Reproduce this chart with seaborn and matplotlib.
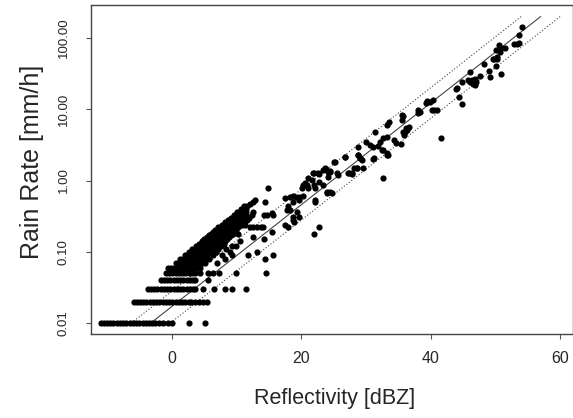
import numpy as np
import matplotlib
matplotlib.use("Agg")
import matplotlib.pyplot as plt
import seaborn as sns
import pandas as pd

# quantised gauge levels (mm/h) and the reflectivities observed at each level
band_rain = [0.01, 0.02, 0.03, 0.04, 0.05, 0.06, 0.07, 0.08, 0.09, 0.10,
             0.11, 0.12, 0.13, 0.14, 0.15, 0.16, 0.17, 0.18, 0.19, 0.20,
             0.22, 0.24, 0.26, 0.28, 0.30, 0.33, 0.36, 0.40, 0.44, 0.47,
             0.50, 0.54]
band_dbz = [
    [-11.0, -10.5, -10.0, -9.5, -9.0, -8.5, -8.0, -7.5, -7.0, -6.5, -6.0, -5.5,
     -5.0, -4.5, -4.0, -3.5, -3.0, -2.6, -2.0, -1.3, -0.6, 0.0, 2.6, 5.2],
    [-5.9, -5.4, -4.9, -4.4, -3.9, -3.4, -2.9, -2.4, -1.9, -1.4, -0.9, -0.4,
     0.1, 0.6, 1.1, 1.6, 2.1, 2.6, 3.0, 3.6, 4.2, 4.9, 5.4],
    [-3.7, -3.2, -2.7, -2.2, -1.7, -1.2, -0.7, -0.2, 0.3, 0.8, 1.3, 1.8, 2.3,
     2.8, 3.3, 3.6, 4.8, 6.6, 8.2, 9.3, 11.4],
    [-1.7, -1.2, -0.7, -0.2, 0.3, 0.8, 1.3, 1.8, 2.3, 2.8, 3.3, 3.6, 5.6],
    [-0.9, -0.4, 0.1, 0.6, 1.1, 1.6, 2.1, 2.6, 3.1, 3.6, 4.3, 5.6, 6.3, 7.3,
     9.9, 14.5],
    [-0.6, -0.1, 0.4, 0.9, 1.4, 1.9, 2.4, 2.9, 3.4, 3.9, 4.4],
    [0.6, 1.1, 1.6, 2.1, 2.6, 3.1, 3.6, 4.1, 4.6, 5.2, 7.0],
    [1.3, 1.8, 2.3, 2.8, 3.3, 3.8, 4.3, 4.8, 5.3, 5.8, 8.2, 14.4],
    [2.0, 2.5, 3.0, 3.5, 4.0, 4.5, 5.0, 5.5, 6.3, 7.8, 9.3, 11.8, 15.6],
    [2.6, 3.1, 3.6, 4.1, 4.6, 5.1, 5.6, 6.1, 6.8, 9.0, 13.1],
    [3.2, 3.7, 4.2, 4.7, 5.2, 5.7, 6.2, 7.2, 8.4],
    [3.7, 4.2, 4.7, 5.2, 5.7, 6.2, 6.7, 7.6, 9.3, 10.0],
    [4.2, 4.7, 5.2, 5.7, 6.2, 6.7, 7.2, 8.0],
    [4.6, 5.1, 5.6, 6.1, 6.6, 7.1, 7.6, 8.3, 10.6],
    [5.0, 5.5, 6.0, 6.5, 7.0, 7.5, 8.0, 8.6, 14.2],
    [5.4, 5.9, 6.4, 6.9, 7.4, 7.9, 8.9, 12.6],
    [5.8, 6.3, 6.8, 7.3, 7.8, 8.3, 9.2],
    [6.1, 6.6, 7.1, 7.6, 8.1, 8.6, 9.5, 10.3],
    [6.4, 6.9, 7.4, 7.9, 8.4, 9.8],
    [6.7, 7.2, 7.7, 8.2, 8.7, 9.2, 10.0],
    [7.2, 7.7, 8.2, 8.7, 9.2, 9.7, 10.3, 12.1, 12.6, 13.1, 13.8, 14.1],
    [7.8, 8.3, 8.8, 9.3, 10.0, 10.6, 10.8, 11.3],
    [8.2, 8.7, 9.2, 9.7, 10.2, 10.8, 11.2],
    [8.7, 9.2, 9.7, 10.2, 11.0, 11.6],
    [9.1, 9.6, 10.1, 10.6, 11.2, 11.9],
    [9.6, 10.2, 10.8, 11.4, 12.4],
    [10.1, 10.8, 11.5, 12.6],
    [10.7, 11.4],
    [11.1, 11.6],
    [12.1],
    [12.6, 14.4],
    [12.8],
]

# individual points in the upper part of the scatter
point_dbz = [14.8, 14.2, 14.7, 15.6, 15.5, 17.5, 18.3, 19.2, 19.6, 18.8, 18.0,
             17.8, 18.3, 19.3, 19.6, 18.8, 17.5, 17.9, 15.5, 21.9, 22.8, 18.8,
             18.9, 20.2, 18.7, 22.1, 22.1, 24.0, 24.7, 20.9, 21.1, 20.6, 22.7,
             23.4, 21.8, 22.7, 23.7, 24.5, 25.2, 25.7, 25.5, 27.3, 27.9, 26.8,
             28.6, 29.5, 28.8, 29.1, 31.1, 32.6, 33.2, 32.7, 20.3, 20.1, 22.1,
             21.9, 19.6, 21.6, 24.0, 24.5,
             54.1, 53.6, 52.9, 53.3, 53.6, 50.5, 50.1, 50.7, 50.8, 51.5, 49.6,
             50.3, 48.3, 50.1, 49.0, 49.2, 50.9, 46.0, 47.6, 45.7, 46.4, 46.8,
             46.1, 46.5, 46.9, 47.0, 44.8, 43.9, 44.0, 44.3, 44.9, 41.6, 40.4,
             39.9, 39.3, 39.5, 40.2, 40.5, 38.1, 38.3, 38.0, 35.7, 35.5, 36.6,
             36.2, 36.0, 35.7, 36.4, 35.8, 35.4, 33.5, 33.2, 34.4, 34.7, 33.2,
             33.2, 33.4, 32.5, 32.6, 31.4, 30.0, 30.6, 31.1, 31.8, 32.2, 31.2,
             28.8, 28.8, 29.1, 29.4, 26.7, 25.1, 28.1, 28.6, 27.4, 27.8, 23.4,
             23.8, 24.2, 24.5, 21.9, 22.6, 21.1, 24.2, 40.9, 50.2, 49.7, 35.5]
point_rain = [0.79, 0.33, 0.33, 0.33, 0.35, 0.56, 0.59, 0.59, 0.53, 0.50, 0.44,
              0.38, 0.38, 0.36, 0.31, 0.31, 0.24, 0.22, 0.19, 0.18, 0.22, 0.28,
              0.26, 0.60, 0.60, 0.53, 0.50, 0.66, 0.66, 0.86, 0.78, 0.91, 0.96,
              0.86, 1.26, 1.23, 1.48, 1.33, 1.84, 1.19, 1.26, 1.28, 1.24, 2.16,
              1.48, 1.48, 2.28, 2.05, 1.98, 2.7, 2.3, 1.07, 0.86, 0.78, 0.78,
              0.86, 0.59, 1.02, 0.70, 0.68,
              141, 110, 82, 82, 84, 81, 68, 64, 72, 72, 50,
              54, 43, 40, 34, 28, 31, 33, 29, 25.7, 25.7, 27,
              24, 22.6, 21.9, 24.4, 24, 19, 20, 15, 11.7, 4.0, 13.5,
              12.8, 12.4, 13.2, 9.8, 9.8, 9.8, 9.2, 8.8, 8.1, 7.1, 5.7,
              5.4, 4.8, 4.8, 5.1, 4.4, 3.3, 6.7, 6.0, 3.7, 3.4, 4.1,
              2.4, 2.3, 2.7, 3.9, 4.8, 3.5, 3.1, 3.0, 3.05, 3.5, 2.05,
              3.0, 2.3, 2.05, 1.94, 2.16, 1.8, 1.48, 1.48, 1.26, 1.26, 1.4,
              1.45, 1.33, 1.37, 1.26, 1.26, 1.07, 1.13, 9.8, 51.5, 50, 8.3]

# Z = a R^b relations: central fit and factor-2 bounds
zr_a = [150, 300, 600]
zr_b = 1.4
zr_style = [":", "-", ":"]
line_rain = [0.01, 200]

dbz_all = [d for row, lst in zip(band_rain, band_dbz) for d in lst] + point_dbz
rain_all = [row for row, lst in zip(band_rain, band_dbz) for d in lst] + point_rain
df = pd.DataFrame({"dbz": dbz_all, "rain": rain_all})

sns.set_style("ticks")
plt.rcParams["font.family"] = ["Liberation Sans", "DejaVu Sans"]

fig = plt.figure(figsize=(5.73, 4.18), dpi=100)
ax = fig.add_axes([91 / 573, 1 - 334 / 418, 481.5 / 573, 329 / 418])

sns.scatterplot(data=df, x="dbz", y="rain", color="black", s=20,
                linewidth=0, ax=ax, zorder=3)

for a, ls in zip(zr_a, zr_style):
    r = np.array(line_rain)
    z = 10 * np.log10(a * r ** zr_b)
    ax.plot(z, r, color="#444444", lw=0.8,
            linestyle="-" if ls == "-" else (0, (1, 1.8)), zorder=2)

ax.set_yscale("log")
ax.set_xlim(-12.47, 61.9)
ax.set_ylim(10 ** -2.154, 10 ** 2.463)

ax.set_xticks([0, 20, 40, 60])
ax.set_xticklabels(["0", "20", "40", "60"])
ax.set_yticks([0.01, 0.1, 1, 10, 100])
ax.set_yticklabels(["0.01", "0.10", "1.00", "10.00", "100.00"],
                   rotation=90, va="center")
ax.minorticks_off()

ax.tick_params(axis="both", direction="out", length=3.5, width=0.8,
               color="#555555", labelsize=11.5)
ax.tick_params(axis="x", pad=8.5)
ax.tick_params(axis="y", pad=12, labelsize=9.5)

for sp in ax.spines.values():
    sp.set_visible(True)
    sp.set_color("#444444")
    sp.set_linewidth(1.0)

ax.set_xlabel("Reflectivity [dBZ]", fontsize=15.5)
ax.set_ylabel("Rain Rate [mm/h]", fontsize=18)
ax.xaxis.set_label_coords(0.505, -0.165)
ax.yaxis.set_label_coords(-0.098, 0.524)

fig.savefig("out.png", dpi=100, facecolor="white")
